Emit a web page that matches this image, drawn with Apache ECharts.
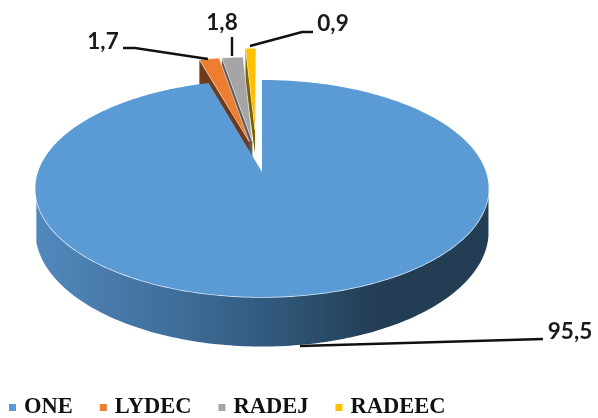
<!DOCTYPE html>
<html>
<head>
<meta charset="utf-8">
<style>html,body{margin:0;padding:0;background:#fff}#c{width:598px;height:418px}</style>
<script src="https://cdn.jsdelivr.net/npm/echarts@6/dist/echarts.min.js"></script>
</head>
<body>
<div id="c"></div>
<script>
const categories = ['ONE', 'LYDEC', 'RADEJ', 'RADEEC'];
const shares = [95.5, 1.7, 1.8, 0.9];
const colors = ['#5B9BD5', '#ED7D31', '#A5A5A5', '#FFC000'];
const sideColors = ['#3d6a92', '#6e3a17', '#5c5c5c', '#7d6000'];

// Perspective projection of the pie plane
const CX = 262, CY = 172, RX = 224, RY = 106, K = 0.152, DEPTH = 42;
// Slice explosion in the pie plane [x, y], and leader/label placement
const explode = [[0, 0], [-0.06, 0.3], [-0.045, 0.3], [-0.033, 0.42]];
const leaders = [
  [[300, 346], [440, 342], [543, 339]],
  [[208, 59], [135, 48], [123, 48]],
  [[232, 56], [232, 37]],
  [[250, 46], [302, 32], [313, 32]]
];
const labelPos = [[570, 332], [103, 42], [222, 23], [333, 24]];

const total = shares.reduce((a, b) => a + b, 0);

function project(theta, r, ex, ey, z) {
  const a = theta * Math.PI / 180;
  const X = r * Math.sin(a) + ex, Y = r * Math.cos(a) + ey;
  const s = 1 / (1 + K * Y);
  return [CX + RX * X * s, CY + (-RY * Y + (z || 0)) * s];
}
function arc(a0, a1, ex, ey, z) {
  const pts = [], n = Math.max(2, Math.ceil(Math.abs(a1 - a0)));
  for (let i = 0; i <= n; i++) pts.push(project(a0 + (a1 - a0) * i / n, 1, ex, ey, z));
  return pts;
}

function renderSlice(idx) {
  return function (params, api) {
    const value = api.value(0);
    let start = 0;
    for (let i = 0; i < idx; i++) start += shares[i] / total * 360;
    const end = start + value / total * 360;
    const [ex, ey] = explode[idx];
    const apex = project(0, 0, ex, ey, 0);
    const children = [];
    if (idx === 0) {
      const top = arc(101, 256, 0, 0, 0);
      const bottom = arc(256, 101, 0, 0, DEPTH);
      children.push({
        type: 'polygon',
        shape: { points: top.concat(bottom) },
        style: {
          fill: new echarts.graphic.LinearGradient(0, 0, 1, 0, [
            { offset: 0, color: '#5288bd' },
            { offset: 0.3, color: '#3f6f9b' },
            { offset: 0.55, color: '#2f5577' },
            { offset: 0.76, color: '#233d54' },
            { offset: 1, color: '#233d54' }
          ])
        }
      });
      children.push({
        type: 'polyline',
        shape: { points: arc(101, 256, 0, 0, 0) },
        style: { stroke: '#dce8f3', lineWidth: 1.6, fill: null }
      });
    } else {
      const outer = project(start, 1, ex, ey, 0);
      const outerLow = project(start, 1, ex, ey, DEPTH);
      const apexLow = project(0, 0, ex, ey, DEPTH * 0.6);
      children.push({
        type: 'polygon',
        shape: { points: [outer, outerLow, apexLow, apex] },
        style: { fill: sideColors[idx] }
      });
    }
    const points = [apex].concat(arc(start, end, ex, ey, 0));
    children.push({
      type: 'polygon',
      shape: { points: points },
      style: { fill: colors[idx], stroke: idx === 0 ? null : '#f4e9df', lineWidth: idx === 0 ? 0 : 0.6 }
    });
    children.push({
      type: 'polyline',
      shape: { points: leaders[idx] },
      style: { stroke: '#111', lineWidth: 2.4, fill: null }
    });
    children.push({
      type: 'text',
      style: {
        x: labelPos[idx][0], y: labelPos[idx][1],
        text: String(value).replace('.', ','),
        fill: '#1a1a1a',
        font: '700 22.5px Lato, "Open Sans", sans-serif',
        align: 'center', verticalAlign: 'middle'
      }
    });
    return { type: 'group', children: children };
  };
}

// Back slices are drawn first, the big slice last
const drawOrder = [3, 2, 1, 0];
const chart = echarts.init(document.getElementById('c'), null, { renderer: 'canvas' });
chart.setOption({
  animation: false,
  backgroundColor: '#fff',
  legend: {
    data: categories,
    left: 4,
    top: 396,
    padding: [0, 5, 0, 5],
    icon: 'rect',
    itemWidth: 7,
    itemHeight: 7,
    itemGap: 27,
    textStyle: {
      fontFamily: '"Liberation Serif", serif',
      fontWeight: 'bold',
      fontSize: 22.5,
      color: '#111',
      padding: [0, 0, 0, 3]
    }
  },
  series: drawOrder.map(i => ({
    type: 'custom',
    name: categories[i],
    coordinateSystem: 'none',
    itemStyle: { color: colors[i] },
    silent: true,
    data: [[shares[i]]],
    renderItem: renderSlice(i)
  }))
});
</script>
</body>
</html>
